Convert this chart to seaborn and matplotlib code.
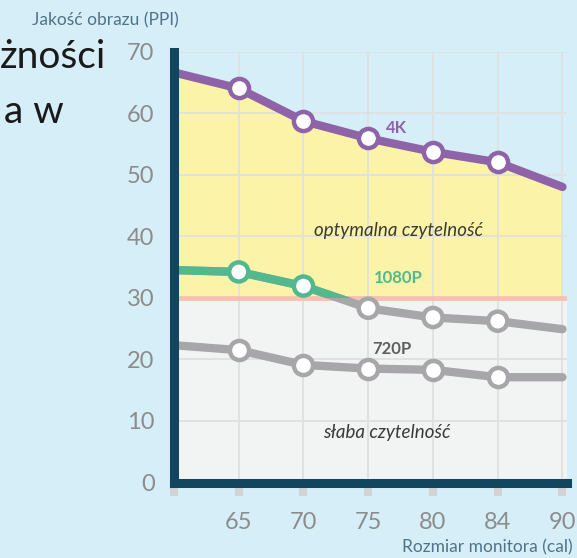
import numpy as np
import pandas as pd
import matplotlib
matplotlib.use("Agg")
import matplotlib.pyplot as plt
import matplotlib.patches as mpatches
import seaborn as sns

# Data
sizes = ["", "65", "70", "75", "80", "84", "90"]
ppi_4k = [66.6, 64.0, 58.7, 55.9, 53.7, 52.0, 48.0]
ppi_1080 = [34.5, 34.2, 31.9, 28.3, 26.8, 26.2, 24.9]
ppi_720 = [22.3, 21.5, 19.1, 18.5, 18.3, 17.1, 17.1]
threshold = 30

BG = "#d6eef7"
PURPLE = "#8e63a8"
GREEN = "#52b98e"
GRAY = "#a7a7a9"
SPINE = "#12455e"

sns.set_theme(style="white")
plt.rcParams['font.family'] = ['Lato', 'DejaVu Sans']

df = pd.DataFrame({"pos": np.arange(len(sizes)), "k4": ppi_4k,
                   "p1080": ppi_1080, "p720": ppi_720})

fig = plt.figure(figsize=(5.77, 5.58), dpi=100, facecolor=BG)
ax = fig.add_axes([174 / 577, 1 - 482.5 / 558, 393 / 577, 431 / 558])
ax.set_facecolor(BG)

# zones
ax.axhspan(0, threshold, color="#f2f3f3", zorder=0.5, lw=0)
ax.fill_between(df["pos"], threshold, df["k4"], color="#fbf4a8", zorder=0.5, lw=0)

# grid
for x in df["pos"]:
    ax.axvline(x, color="#e0e0e0", lw=1.3, zorder=1)
for y in range(10, 71, 10):
    ax.axhline(y, color="#e0e0e0", lw=1.3, zorder=1)
ax.axhline(threshold, color="#f7c1b2", lw=3.5, zorder=1.2)

lw = 6
sns.lineplot(data=df, x="pos", y="k4", color=PURPLE, lw=lw, ax=ax, zorder=3,
             solid_capstyle="round")
sns.lineplot(data=df, x="pos", y="p720", color=GRAY, lw=lw, ax=ax, zorder=3,
             solid_capstyle="round")
sns.lineplot(data=df, x="pos", y="p1080", color=GRAY, lw=lw, ax=ax, zorder=3,
             solid_capstyle="round")
sns.lineplot(data=df, x="pos", y="p1080", color=GREEN, lw=lw, ax=ax, zorder=3.1,
             solid_capstyle="butt")
clip = mpatches.Rectangle((-1, threshold), 10, 100, transform=ax.transData)
ax.lines[-1].set_clip_path(clip)

# markers only on the inner positions
inner = df.iloc[1:-1]
mk = dict(marker="o", s=190, facecolor="white", linewidths=3.2, zorder=4)
ax.scatter(inner["pos"], inner["k4"], edgecolor=PURPLE, **mk)
ax.scatter(inner["pos"], inner["p720"], edgecolor=GRAY, **mk)
cols_1080 = [GREEN if v > threshold else GRAY for v in inner["p1080"]]
ax.scatter(inner["pos"], inner["p1080"], edgecolor=cols_1080, **mk)

# labels
ax.text(3.43, 57.5, "4K", color=PURPLE, fontsize=12, fontweight="bold",
        ha="center", va="center", zorder=5)
ax.text(3.46, 33.2, "1080P", color=GREEN, fontsize=12, fontweight="bold",
        ha="center", va="center", zorder=5)
ax.text(3.37, 21.7, "720P", color="#5f5f5f", fontsize=12, fontweight="bold",
        ha="center", va="center", zorder=5)
ax.text(3.47, 41.0, "optymalna czytelność", color="#3a3a3a", fontsize=13.5,
        style="italic", ha="center", va="center", zorder=5)
ax.text(3.28, 8.2, "słaba czytelność", color="#3a3a3a", fontsize=13.5,
        style="italic", ha="center", va="center", zorder=5)

ax.set_xlim(0, 6.07)
ax.set_ylim(0, 70)
ax.set_xticks(df["pos"])
ax.set_xticklabels(sizes)
ax.set_yticks(range(0, 71, 10))
ax.set_xlabel("")
ax.set_ylabel("")
ax.tick_params(axis="x", length=9, width=5.8, color="#d3d3d3", labelsize=17,
               labelcolor="#8c8c8c", pad=12, bottom=True)
ax.tick_params(axis="y", length=0, labelsize=17, labelcolor="#8c8c8c", pad=14)

for side in ["top", "right"]:
    ax.spines[side].set_visible(False)
for side in ["left", "bottom"]:
    ax.spines[side].set_color(SPINE)
    ax.spines[side].set_linewidth(6.5)
    ax.spines[side].set_capstyle("projecting")
    ax.spines[side].set_zorder(6)

fig.text(32 / 577, 1 - 20 / 558, "Jakość obrazu (PPI)", color="#4f7388",
         fontsize=12.5, ha="left", va="center")
fig.text(573 / 577, 1 - 547 / 558, "Rozmiar monitora (cal)", color="#4f7388",
         fontsize=12.5, ha="right", va="center")

# clipped title on the left
fig.text(0, 1 - 57 / 558, "żności", color="#1a1a1a", fontsize=28,
         ha="left", va="center")
fig.text(4 / 577, 1 - 112 / 558, "a w", color="#1a1a1a", fontsize=28,
         ha="left", va="center")

fig.savefig("out.png", dpi=100, facecolor=BG)
